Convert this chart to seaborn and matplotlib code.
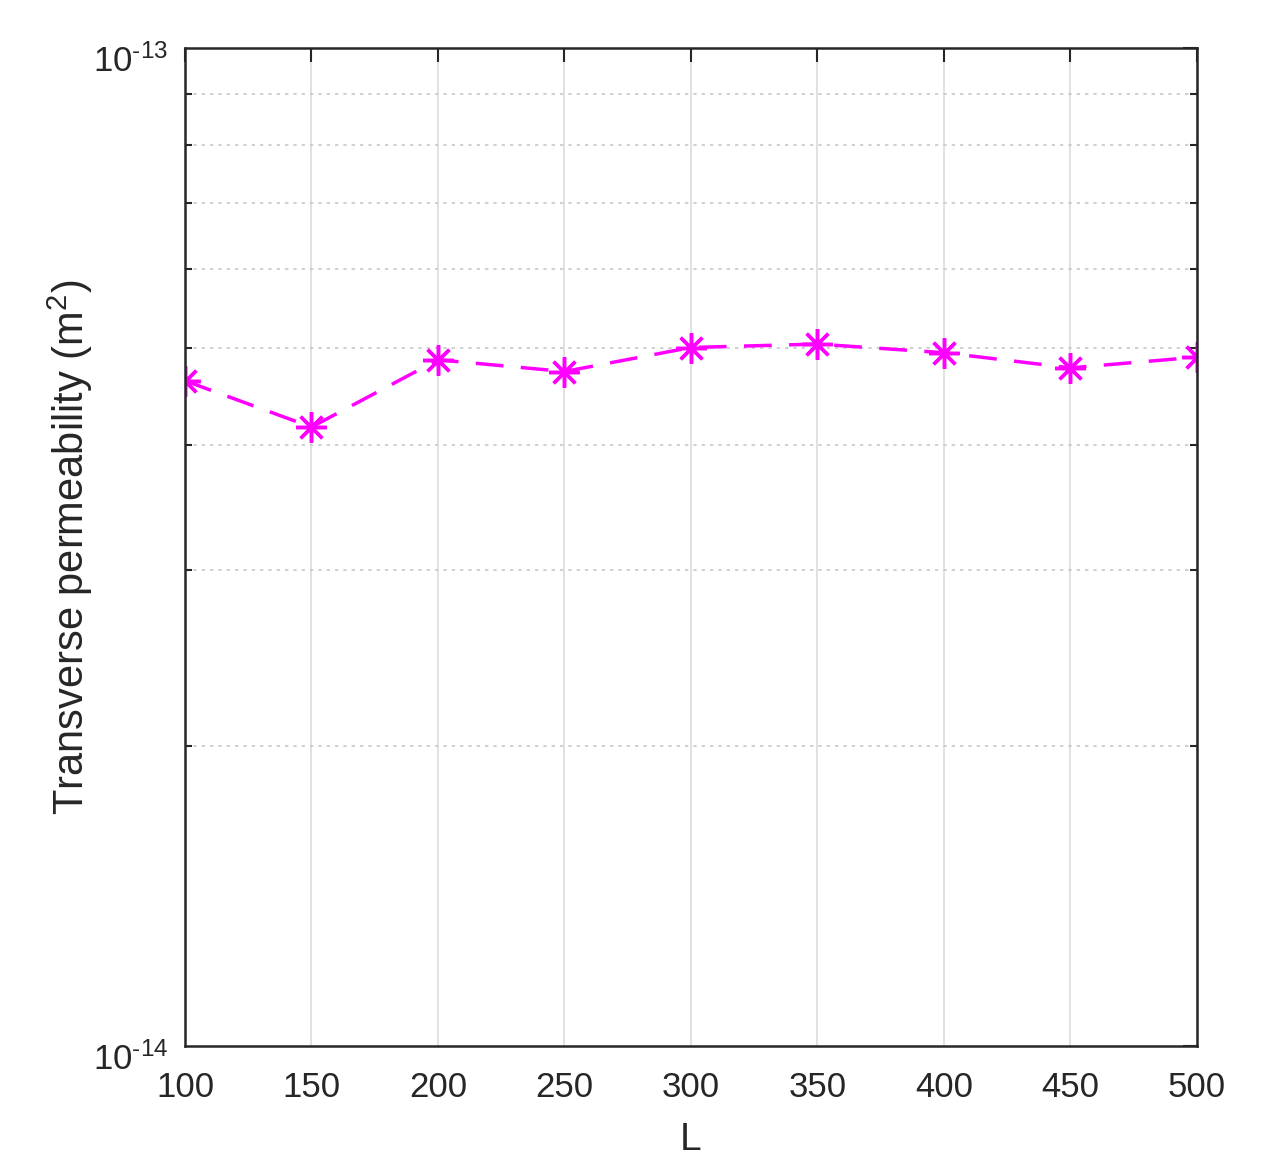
import matplotlib
matplotlib.use("Agg")
import matplotlib.pyplot as plt
import matplotlib.ticker as mticker
import matplotlib.transforms as mtransforms
import seaborn as sns
import pandas as pd
import numpy as np

L_values = [100, 150, 200, 250, 300, 350, 400, 450, 500]
permeability = [4.64e-14, 4.17e-14, 4.87e-14, 4.74e-14, 5.01e-14, 5.05e-14, 4.95e-14, 4.78e-14, 4.90e-14]
x_ticks = [100, 150, 200, 250, 300, 350, 400, 450, 500]
y_limits = [1e-14, 1e-13]
y_tick_labels = ["10$^{\u201014}$", "10$^{\u201013}$"]

sns.set_theme(style="white")
plt.rcParams['font.family'] = ['Liberation Sans', 'DejaVu Sans']
plt.rcParams['mathtext.default'] = 'regular'

df = pd.DataFrame({"L": L_values, "k": permeability})

fig = plt.figure(figsize=(12.73, 11.61), dpi=100)
ax = fig.add_axes([0.1453, 0.0991, 0.7950, 0.8596])

sns.lineplot(data=df, x="L", y="k", ax=ax, color="#ff00ff", linewidth=2.5,
             marker=(8, 2, 0), markersize=22, markeredgewidth=2.5,
             markeredgecolor="#ff00ff", dashes=False)
for line in ax.lines:
    line.set_linestyle((0, (8, 5)))

ax.set_yscale("log")
ax.set_xlim(100, 500)
ax.set_ylim(*y_limits)
ax.set_xticks(x_ticks)
ax.set_xticklabels([str(v) for v in x_ticks])
ax.yaxis.set_major_locator(mticker.FixedLocator(y_limits))
ax.yaxis.set_major_formatter(mticker.FixedFormatter(y_tick_labels))
ax.yaxis.set_minor_locator(mticker.LogLocator(base=10, subs=np.arange(2, 10)))
ax.yaxis.set_minor_formatter(mticker.NullFormatter())

ax.grid(True, axis="x", which="major", color="#dcdcdc", linewidth=1.2, linestyle="-")
ax.grid(True, axis="y", which="minor", color="#c8c8c8", linewidth=1.2, linestyle=(0, (2, 3)))
ax.set_axisbelow(True)

ax.tick_params(axis="both", which="major", direction="in", length=10, width=1.5,
               colors="#262626", labelsize=25, top=True, right=True)
ax.tick_params(axis="y", which="minor", direction="in", length=5, width=1.5,
               colors="#262626", left=True, right=True)
ax.tick_params(axis="x", which="major", pad=18)
ax.tick_params(axis="y", which="major", pad=12)

offset = mtransforms.ScaledTranslation(0, -10 / 100, fig.dpi_scale_trans)
for lbl in ax.get_yticklabels():
    lbl.set_transform(lbl.get_transform() + offset)

for s in ax.spines.values():
    s.set_color("#262626")
    s.set_linewidth(1.8)
    s.set_visible(True)

ax.set_xlabel("L", fontsize=28, color="#262626")
ax.set_ylabel("Transverse permeability (m$^2$)", fontsize=30, color="#262626")
ax.yaxis.set_label_coords(-0.089, 0.5)
ax.xaxis.set_label_coords(0.5, -0.076)

fig.savefig("out.png", dpi=100)
